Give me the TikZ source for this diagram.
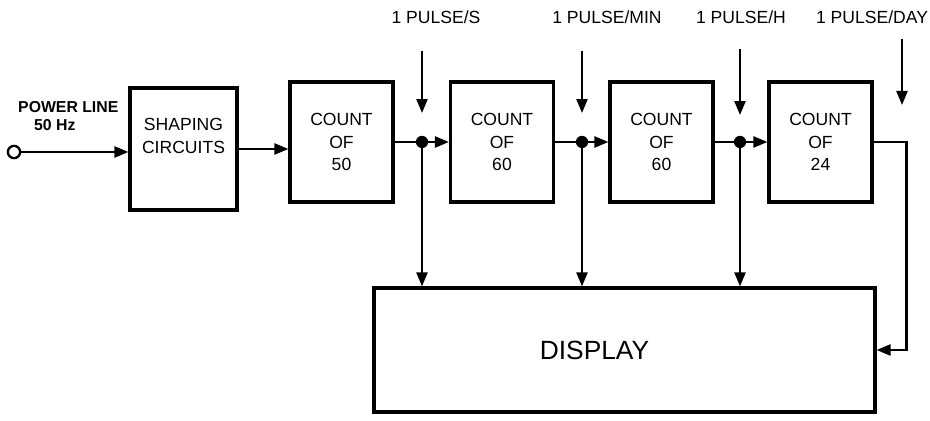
\documentclass[tikz,border=0pt]{standalone}
\usepackage{fontspec}
\setmainfont{Liberation Sans}
\usetikzlibrary{arrows.meta}

\begin{document}
\begin{tikzpicture}[x=0.02cm,y=-0.02cm,
  blk/.style={draw,line width=1.8pt,inner sep=0pt,align=center,
    font=\fontsize{10}{13}\selectfont},
  cnt/.style={blk,minimum width=2.06cm,minimum height=2.4cm},
  sig/.style={line width=1.3pt,-{Triangle[length=2.8mm,width=2.2mm]}},
  wire/.style={line width=1.3pt},
  lbl/.style={font=\fontsize{10}{12}\selectfont}]
  \useasboundingbox (0,0) rectangle (930,421);
  % blocks
  \node[blk,minimum width=2.14cm,minimum height=2.44cm] (shp) at (183.5,149) {SHAPING\\CIRCUITS\\[2pt]};
  \node[cnt] (c50) at (341.5,142) {COUNT\\OF\\50};
  \node[cnt] (c60) at (502,142) {COUNT\\OF\\60};
  \node[cnt] (c60b) at (661.5,142) {COUNT\\OF\\60};
  \node[cnt] (c24) at (820.5,142) {COUNT\\OF\\24};
  \node[blk,minimum width=10.02cm,minimum height=2.48cm,font=\fontsize{15}{18}\selectfont] (disp) at (624.5,350) {DISPLAY\hspace*{1.2cm}};
  % input
  \node[circle,draw,line width=1.3pt,inner sep=0pt,minimum size=7pt] (in) at (14,152) {};
  \node[anchor=west,font=\bfseries\fontsize{9}{11}\selectfont] (pl) at (12,107) {POWER LINE};
  \node[anchor=west,font=\bfseries\fontsize{9}{11}\selectfont] (hz) at (28,125) {50 Hz};
  \draw[sig] (in) -- (in -| shp.west);
  \draw[sig] (shp.east) -- (shp.east -| c50.west);
  % junctions
  \coordinate (j1) at (422,142);
  \coordinate (j2) at (582,142);
  \coordinate (j3) at (740,142);
  \draw[wire] (c50.east) -- (j1);
  \draw[sig] (j1) -- (c60.west);
  \draw[wire] (c60.east) -- (j2);
  \draw[sig] (j2) -- (c60b.west);
  \draw[wire] (c60b.east) -- (j3);
  \draw[sig] (j3) -- (c24.west);
  \foreach \j in {j1,j2,j3} {
    \fill (\j) circle (3.5pt);
    \draw[sig] (\j) -- (\j |- disp.north);
  }
  \draw[sig] (c24.east) -- ++(33,0) |- (disp.east);
  % pulse labels
  \node[lbl] (p1) at (436,17) {1 PULSE/S};
  \node[lbl] (p2) at (607,17) {1 PULSE/MIN};
  \node[lbl] (p3) at (741,17) {1 PULSE/H};
  \node[lbl] (p4) at (872,17) {1 PULSE/DAY};
  \draw[sig,shorten <=0.42cm,shorten >=0.58cm] (j1 |- p1.south) -- (j1);
  \draw[sig,shorten <=0.42cm,shorten >=0.58cm] (j2 |- p2.south) -- (j2);
  \draw[sig,shorten <=0.38cm,shorten >=0.54cm] (j3 |- p3.south) -- (j3);
  \coordinate (dend) at (902,105);
  \draw[sig,shorten <=0.18cm] (dend |- p4.south) -- (dend);
\end{tikzpicture}
\end{document}
